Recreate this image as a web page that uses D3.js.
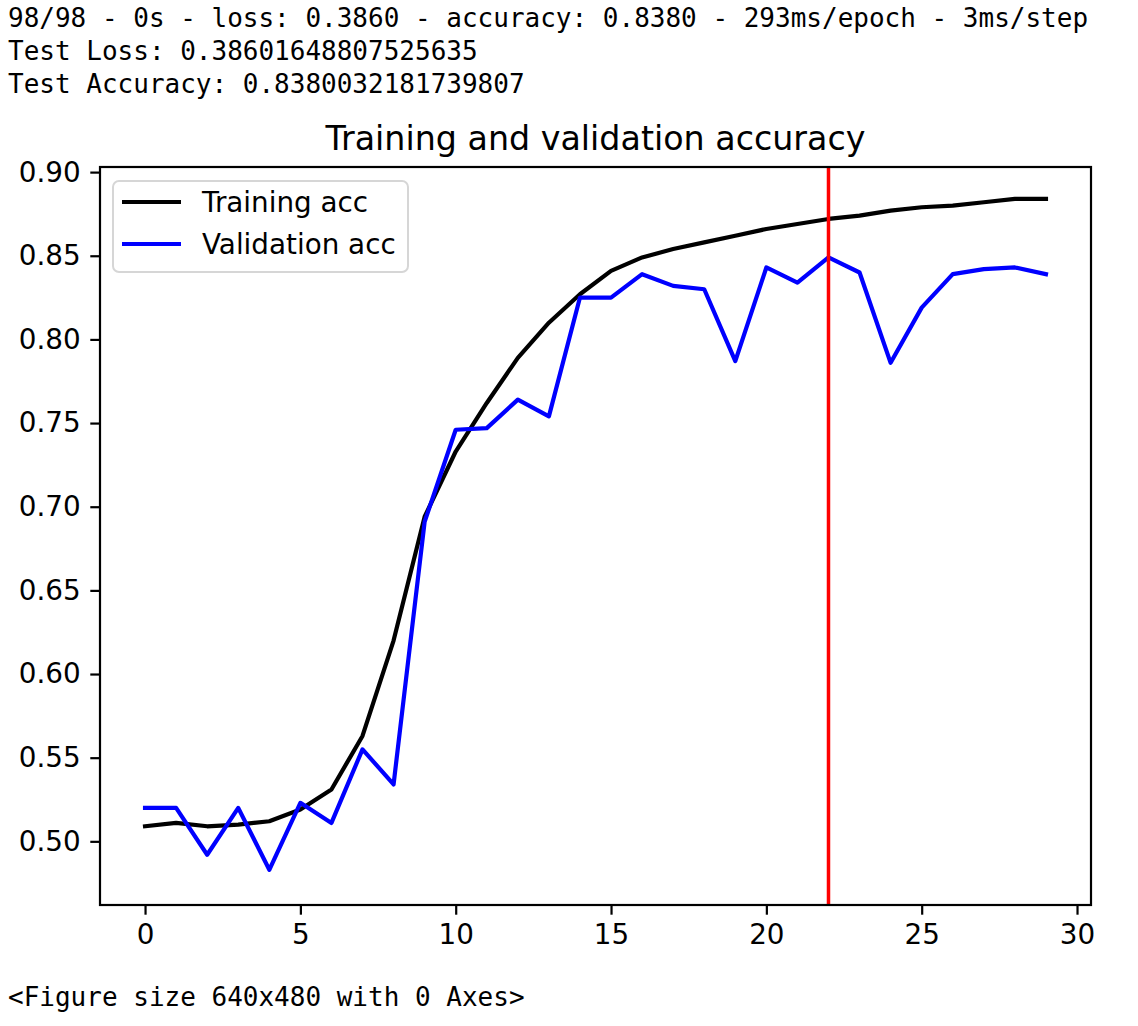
<!DOCTYPE html>
<html>
<head>
<meta charset="utf-8">
<script src="https://cdn.jsdelivr.net/npm/d3@7"></script>
<style>
  body { margin: 0; background: #fff; }
  svg text { font-family: "DejaVu Sans", sans-serif; }
  svg .mono { font-family: "DejaVu Sans Mono", monospace; }
</style>
</head>
<body>
<div id="chart"></div>
<script>
// console output around the figure
const logLines = [
    "98/98 - 0s - loss: 0.3860 - accuracy: 0.8380 - 293ms/epoch - 3ms/step",
    "Test Loss: 0.38601648807525635",
    "Test Accuracy: 0.8380032181739807"
];
const footerLine = "<Figure size 640x480 with 0 Axes>";

// epochs and accuracy per epoch
const epochs = d3.range(0, 30);
const trainAcc = [0.509, 0.511, 0.509, 0.510, 0.512, 0.519, 0.531, 0.563, 0.620, 0.694,
                  0.733, 0.762, 0.789, 0.810, 0.827, 0.841, 0.849, 0.854, 0.858, 0.862,
                  0.866, 0.869, 0.872, 0.874, 0.877, 0.879, 0.880, 0.882, 0.884, 0.884];
const valAcc = [0.520, 0.520, 0.492, 0.520, 0.483, 0.523, 0.511, 0.555, 0.534, 0.691,
                0.746, 0.747, 0.764, 0.754, 0.825, 0.825, 0.839, 0.832, 0.830, 0.787,
                0.843, 0.834, 0.849, 0.840, 0.786, 0.819, 0.839, 0.842, 0.843, 0.839];
const bestEpoch = 22;
const xTicks = [0, 5, 10, 15, 20, 25, 30];
const yTicks = [0.50, 0.55, 0.60, 0.65, 0.70, 0.75, 0.80, 0.85, 0.90];
const seriesNames = ["Training acc", "Validation acc"];

const width = 1138;
const height = 1026;
const plot = {left: 100, right: 1091, top: 167, bottom: 905};

const svg = d3.select("#chart")
    .append("svg")
    .attr("width", width)
    .attr("height", height);

// Textausgabe oben
svg.append("g")
    .selectAll("text")
    .data(logLines)
    .join("text")
    .attr("class", "mono")
    .attr("x", 8)
    .attr("y", (d, i) => 27 + i * 33)
    .attr("font-size", 26)
    .attr("fill", "#000")
    .text(d => d);

svg.append("text")
    .attr("class", "mono")
    .attr("x", 8)
    .attr("y", 1006)
    .attr("font-size", 26)
    .attr("fill", "#000")
    .text(footerLine);

// scales with matplotlib style 5% margins
const x = d3.scaleLinear()
    .domain([-1.45, 30.45])
    .range([plot.left, plot.right]);

const allVals = trainAcc.concat(valAcc);
const yMin = d3.min(allVals), yMax = d3.max(allVals);
const yPad = (yMax - yMin) * 0.05;
const y = d3.scaleLinear()
    .domain([yMin - yPad - 0.001, yMax + yPad - 0.001])
    .range([plot.bottom, plot.top]);

const tickLen = 9.7, tickPad = 9.7, fs = 27.8;

// axes
const xAxis = svg.append("g")
    .attr("transform", `translate(0,${plot.bottom})`)
    .call(d3.axisBottom(x).tickValues(xTicks).tickSize(tickLen).tickPadding(tickPad).tickSizeOuter(0));
const yAxis = svg.append("g")
    .attr("transform", `translate(${plot.left},0)`)
    .call(d3.axisLeft(y).tickValues(yTicks).tickFormat(d3.format(".2f")).tickSize(tickLen).tickPadding(tickPad).tickSizeOuter(0));

[xAxis, yAxis].forEach(ax => {
    ax.select(".domain").remove();
    ax.selectAll(".tick line").attr("stroke", "#000").attr("stroke-width", 2.2);
    ax.selectAll(".tick text")
        .attr("font-size", fs)
        .attr("font-family", "DejaVu Sans")
        .attr("fill", "#000");
});
xAxis.selectAll(".tick text").attr("dy", "0.71em");

// clip
svg.append("clipPath").attr("id", "clip")
    .append("rect")
    .attr("x", plot.left).attr("y", plot.top)
    .attr("width", plot.right - plot.left).attr("height", plot.bottom - plot.top);

const line = d3.line()
    .x((d, i) => x(epochs[i]))
    .y(d => y(d));

const lines = svg.append("g").attr("clip-path", "url(#clip)");

lines.append("path")
    .datum(trainAcc)
    .attr("d", line)
    .attr("fill", "none")
    .attr("stroke", "#000")
    .attr("stroke-width", 4.2)
    .attr("stroke-linejoin", "round")
    .attr("stroke-linecap", "square");

lines.append("path")
    .datum(valAcc)
    .attr("d", line)
    .attr("fill", "none")
    .attr("stroke", "#0000ff")
    .attr("stroke-width", 4.2)
    .attr("stroke-linejoin", "round")
    .attr("stroke-linecap", "square");

// beste Epoche
lines.append("line")
    .attr("x1", x(bestEpoch)).attr("x2", x(bestEpoch))
    .attr("y1", plot.top).attr("y2", plot.bottom)
    .attr("stroke", "#ff0000")
    .attr("stroke-width", 3.5);

// spines
svg.append("rect")
    .attr("x", plot.left).attr("y", plot.top)
    .attr("width", plot.right - plot.left).attr("height", plot.bottom - plot.top)
    .attr("fill", "none")
    .attr("stroke", "#000")
    .attr("stroke-width", 2.2);

// title
svg.append("text")
    .attr("x", (plot.left + plot.right) / 2)
    .attr("y", 150)
    .attr("text-anchor", "middle")
    .attr("font-size", 33.3)
    .attr("fill", "#000")
    .text("Training and validation accuracy");

// legend
const legend = svg.append("g").attr("transform", "translate(113,181)");
legend.append("rect")
    .attr("width", 295).attr("height", 91)
    .attr("rx", 6).attr("ry", 6)
    .attr("fill", "#fff").attr("fill-opacity", 0.8)
    .attr("stroke", "#d6d6d6").attr("stroke-width", 2);

const legColors = ["#000", "#0000ff"];
const item = legend.selectAll("g.item")
    .data(seriesNames)
    .join("g")
    .attr("class", "item")
    .attr("transform", (d, i) => `translate(0,${21 + i * 42})`);

item.append("line")
    .attr("x1", 9).attr("x2", 68)
    .attr("stroke", (d, i) => legColors[i])
    .attr("stroke-width", 4.2);

item.append("text")
    .attr("x", 89)
    .attr("y", 10)
    .attr("font-size", fs)
    .attr("fill", "#000")
    .text(d => d);
</script>
</body>
</html>
